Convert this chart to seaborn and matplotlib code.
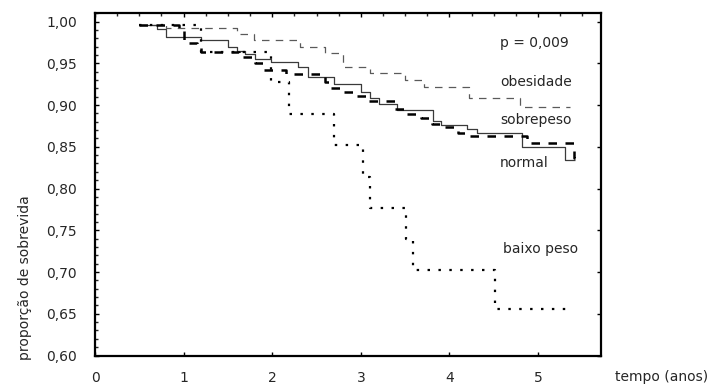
import matplotlib
matplotlib.use("Agg")
import matplotlib.pyplot as plt
import seaborn as sns
import pandas as pd
import numpy as np
from matplotlib.ticker import MultipleLocator, FixedLocator

# ---- data ----
normal_t = [0.50, 0.70, 0.80, 1.20, 1.50, 1.60, 1.69, 1.80, 1.99, 2.29, 2.40, 2.70,
            3.00, 3.10, 3.21, 3.41, 3.81, 3.91, 4.20, 4.31, 4.82, 5.30, 5.42]
normal_s = [0.996, 0.991, 0.982, 0.978, 0.969, 0.965, 0.961, 0.955, 0.951, 0.946, 0.933, 0.925,
            0.915, 0.908, 0.901, 0.894, 0.881, 0.876, 0.871, 0.867, 0.850, 0.834, 0.834]

sobre_t = [0.50, 0.95, 1.00, 1.15, 1.20, 1.62, 1.81, 1.90, 2.16, 2.60, 2.66, 2.80,
           2.95, 3.08, 3.38, 3.50, 3.68, 3.80, 3.95, 4.10, 4.20, 4.88, 5.40, 5.42]
sobre_s = [0.996, 0.990, 0.974, 0.969, 0.963, 0.958, 0.950, 0.942, 0.937, 0.928, 0.920, 0.916,
           0.911, 0.905, 0.895, 0.889, 0.885, 0.877, 0.874, 0.866, 0.863, 0.855, 0.836, 0.836]

obes_t = [0.50, 0.80, 1.60, 1.79, 2.31, 2.60, 2.80, 3.10, 3.50, 3.71, 4.22, 4.80, 5.36]
obes_s = [0.996, 0.992, 0.985, 0.978, 0.969, 0.962, 0.946, 0.938, 0.930, 0.922, 0.908, 0.898, 0.898]

baixo_t = [0.50, 1.20, 1.99, 2.19, 2.70, 3.02, 3.10, 3.51, 3.59, 4.51, 5.32]
baixo_s = [0.996, 0.963, 0.928, 0.889, 0.852, 0.814, 0.777, 0.740, 0.702, 0.656, 0.656]

x_ticks = [0, 1, 2, 3, 4, 5]
y_ticks = [0.60, 0.65, 0.70, 0.75, 0.80, 0.85, 0.90, 0.95, 1.00]
y_tick_labels = ["0,60", "0,65", "0,70", "0,75", "0,80", "0,85", "0,90", "0,95", "1,00"]

labels = {"obesidade": (4.57, 0.927), "sobrepeso": (4.57, 0.882),
          "normal": (4.57, 0.830), "baixo peso": (4.60, 0.728)}
p_text = "p = 0,009"

# ---- style ----
sns.set_style("ticks")
plt.rcParams["font.family"] = ["DejaVu Sans"]
txt_color = "#262626"

fig = plt.figure(figsize=(7.24, 3.87), dpi=100)
ax = fig.add_axes([95/724, 1 - 355.5/387, (601-95)/724, (355.5-12.5)/387])

series = [
    ("obesidade", obes_t, obes_s, dict(color="#5a5a5a", lw=0.9, dashes=(6, 5))),
    ("normal", normal_t, normal_s, dict(color="#3a3a3a", lw=0.9, dashes=None)),
    ("sobrepeso", sobre_t, sobre_s, dict(color="black", lw=1.8, dashes=(3.4, 3.4))),
    ("baixo peso", baixo_t, baixo_s, dict(color="black", lw=1.6, dashes=(1.1, 3.8))),
]
for name, t, s, st in series:
    df = pd.DataFrame({"tempo": t, "sobrevida": s})
    sns.lineplot(data=df, x="tempo", y="sobrevida", ax=ax, estimator=None,
                 drawstyle="steps-post", color=st["color"], linewidth=st["lw"],
                 legend=False)
    ln = ax.lines[-1]
    if st["dashes"] is not None:
        ln.set_dashes(st["dashes"])
    ln.set_solid_capstyle("butt")
    ln.set_dash_capstyle("butt")

ax.set_xlim(0, 5.71)
ax.set_ylim(0.60, 1.0108)
ax.set_xlabel("")
ax.set_ylabel("")

ax.xaxis.set_major_locator(FixedLocator(x_ticks))
ax.set_xticklabels([str(v) for v in x_ticks])
ax.xaxis.set_minor_locator(MultipleLocator(0.25))
ax.yaxis.set_major_locator(FixedLocator(y_ticks))
ax.set_yticklabels(y_tick_labels)
ax.yaxis.set_minor_locator(MultipleLocator(0.01))

ax.tick_params(axis="both", which="major", direction="in", length=3, width=1,
               labelsize=10, labelcolor=txt_color, color="black")
ax.tick_params(axis="x", which="major", top=True, bottom=True, pad=11)
ax.tick_params(axis="y", which="major", left=True, right=True, pad=13)
ax.tick_params(axis="x", which="minor", direction="in", length=2, width=1,
               top=True, bottom=False)
ax.tick_params(axis="y", which="minor", direction="in", length=2, width=1,
               left=True, right=False)

for sp in ax.spines.values():
    sp.set_linewidth(1.6)
    sp.set_color("black")
    sp.set_visible(True)

ax.text(4.57, 0.974, p_text, fontsize=10, color=txt_color, va="center", ha="left")
for name, (x, y) in labels.items():
    ax.text(x, y, name, fontsize=10, color=txt_color, va="center", ha="left")

fig.text(615/724, 1 - 377/387, "tempo (anos)", fontsize=10, color=txt_color,
         va="center", ha="left")
fig.text(25/724, 1 - 278/387, "proporção de sobrevida", fontsize=10, color=txt_color,
         va="center", ha="center", rotation=90)

fig.savefig("out.png", dpi=100)
